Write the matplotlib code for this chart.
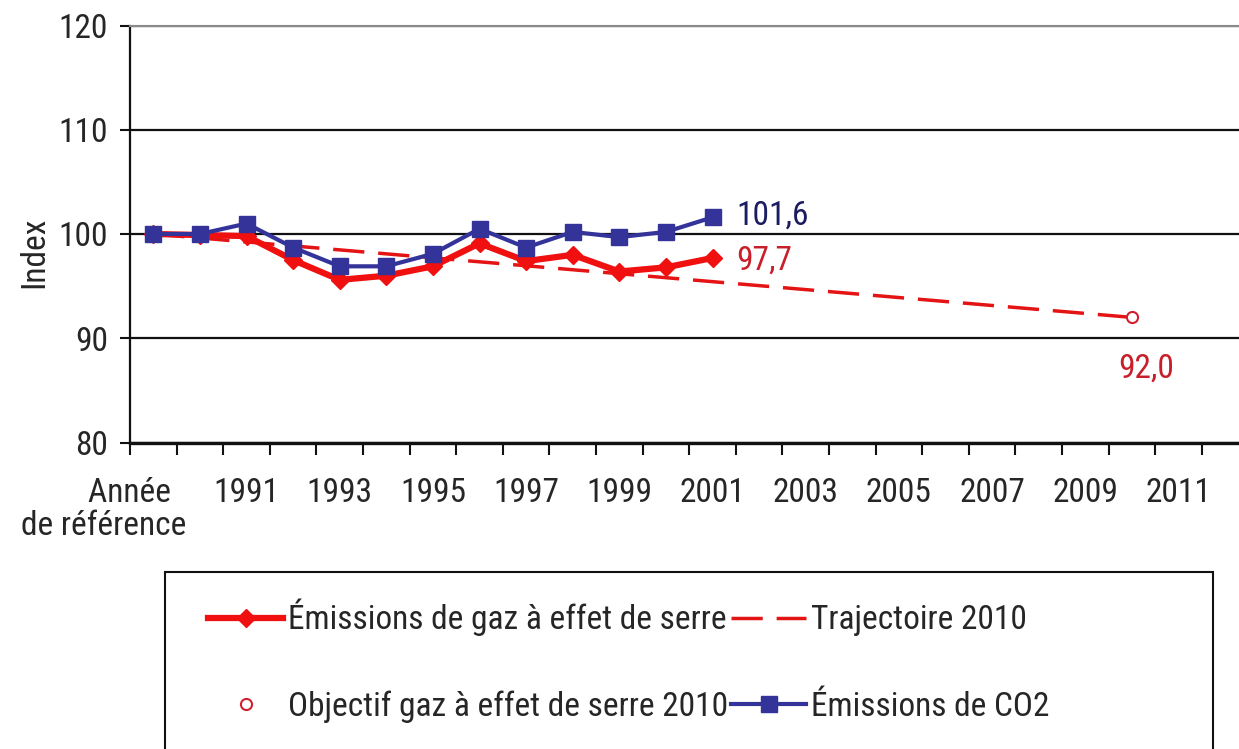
import matplotlib
matplotlib.use("Agg")
import matplotlib.pyplot as plt
from matplotlib import font_manager as fm
from matplotlib.patches import Rectangle
from matplotlib.transforms import ScaledTranslation

# ---------------- data ----------------
categories = ["Année de référence"] + [str(y) for y in range(1990, 2013)]
ghg_years_idx = list(range(0, 13))          # ref .. 2001
ghg_values = [100.0, 99.9, 99.8, 97.5, 95.6, 96.0, 96.9, 99.1, 97.4, 98.0, 96.4, 96.8, 97.7]
co2_values = [100.0, 100.0, 101.0, 98.7, 96.9, 96.9, 98.1, 100.5, 98.7, 100.2, 99.7, 100.2, 101.6]
traj_idx = [0, 21]                          # ref -> 2010
traj_values = [100.0, 92.0]
target_idx = [21]                           # 2010
target_values = [92.0]
tick_label_idx = list(range(0, 24, 2))
tick_labels = ["Année  \nde référence"] + [categories[i] for i in tick_label_idx[1:]]
yticks = [80, 90, 100, 110, 120]

# ---------------- fonts ----------------
names = {f.name for f in fm.fontManager.ttflist}
if "Liberation Sans Narrow" in names:
    fam, FS = "Liberation Sans Narrow", 25
elif "Roboto Condensed" in names:
    fam, FS = "Roboto Condensed", 24
else:
    fam, FS = "Liberation Sans", 21
plt.rcParams["font.family"] = [fam, "DejaVu Sans"]

W, H, DPI = 1239, 749, 100
fig = plt.figure(figsize=(W / DPI, H / DPI), dpi=DPI)
fig.patch.set_facecolor("white")

left_px, right_px, top_px, bot_px = 130, 1248.4, 25.5, 442.5
ax_w = right_px - left_px
ax = fig.add_axes([left_px / W, 1 - bot_px / H, ax_w / W, (bot_px - top_px) / H])

RED = "#f01010"
BLUE = "#33339a"
TXT = "#262626"

ax.set_xlim(-0.5, 23.5)
ax.set_ylim(80, 120)

# trajectory
traj, = ax.plot(traj_idx, traj_values, color="#e41414", lw=2.5, dashes=(9, 4),
                zorder=3, label="Trajectoire 2010")
# GHG emissions
ghg, = ax.plot(ghg_years_idx, ghg_values, color=RED, lw=4.5, marker="D", ms=9,
               mec=RED, mfc=RED, zorder=4, label="Émissions de gaz à effet de serre")
# CO2 emissions
co2, = ax.plot(ghg_years_idx, co2_values, color=BLUE, lw=3, marker="s", ms=11,
               mec=BLUE, mfc=BLUE, zorder=5, label="Émissions de CO2")
# target
tgt, = ax.plot(target_idx, target_values, ls="none", marker="o", ms=8, mfc="white",
               mec="#d02030", mew=1.5, zorder=6, label="Objectif gaz à effet de serre 2010")

# data labels
ax.annotate("101,6", (ghg_years_idx[-1], co2_values[-1]), xytext=(17, 1),
            textcoords="offset points", ha="left", va="center", fontsize=FS, color="#1c1c60")
ax.annotate("97,7", (ghg_years_idx[-1], ghg_values[-1]), xytext=(17, -2),
            textcoords="offset points", ha="left", va="center", fontsize=FS, color="#c8202a")
ax.annotate("92,0", (target_idx[0], target_values[0]), xytext=(10, -37),
            textcoords="offset points", ha="center", va="center", fontsize=FS, color="#c8202a")

# grid and spines
ax.set_yticks(yticks)
ax.yaxis.grid(True, color="#111111", lw=1.6)
ax.set_axisbelow(True)
ax.spines["right"].set_visible(False)
ax.spines["top"].set_color("#8a8a8a")
ax.spines["top"].set_linewidth(1.5)
ax.spines["left"].set_color("#111111")
ax.spines["left"].set_linewidth(1.6)
ax.spines["bottom"].set_color("#111111")
ax.spines["bottom"].set_linewidth(2.4)

ax.tick_params(axis="y", direction="out", length=7, width=1.5, color="#111111",
               labelsize=FS, labelcolor=TXT, pad=9)
ax.set_yticklabels([str(v) for v in yticks])

# x: major ticks at category boundaries, minor (labelled) at centres
ax.set_xticks([i - 0.5 for i in range(0, 25)])
ax.set_xticklabels([])
ax.set_xticks(tick_label_idx, minor=True)
ax.set_xticklabels(tick_labels, minor=True)
ax.tick_params(axis="x", which="major", direction="out", length=8.5, width=1.5, color="#111111")
ax.tick_params(axis="x", which="minor", length=0, labelsize=FS, labelcolor=TXT, pad=25)
first = ax.get_xticklabels(minor=True)[0]
first.set_horizontalalignment("right")
first.set_multialignment("right")
first.set_linespacing(1.05)
first.set_transform(first.get_transform() + ScaledTranslation(33 / 100, 0, fig.dpi_scale_trans))

ax.set_ylabel("Index", fontsize=FS, color=TXT)
ax.yaxis.set_label_coords((50 - left_px) / ax_w, 0.457)

# legend
handles = [ghg, tgt, traj, co2]
leg = fig.legend(handles=handles, labels=[h.get_label() for h in handles], ncol=2,
                 loc="upper left", bbox_to_anchor=(208 / W, 1 - 599 / H),
                 frameon=False, fontsize=FS, handlelength=2.25, handletextpad=0.15,
                 columnspacing=0.1, labelspacing=1.62, borderpad=0, borderaxespad=0)
for t in leg.get_texts():
    t.set_color(TXT)

frame = Rectangle((165 / W, -0.05), (1213 - 165) / W, (1 - 572 / H) + 0.05,
                  transform=fig.transFigure, facecolor="none", edgecolor="#111111",
                  lw=1.5, clip_on=False, zorder=0)
fig.add_artist(frame)

fig.savefig("out.png", dpi=DPI, facecolor="white")
